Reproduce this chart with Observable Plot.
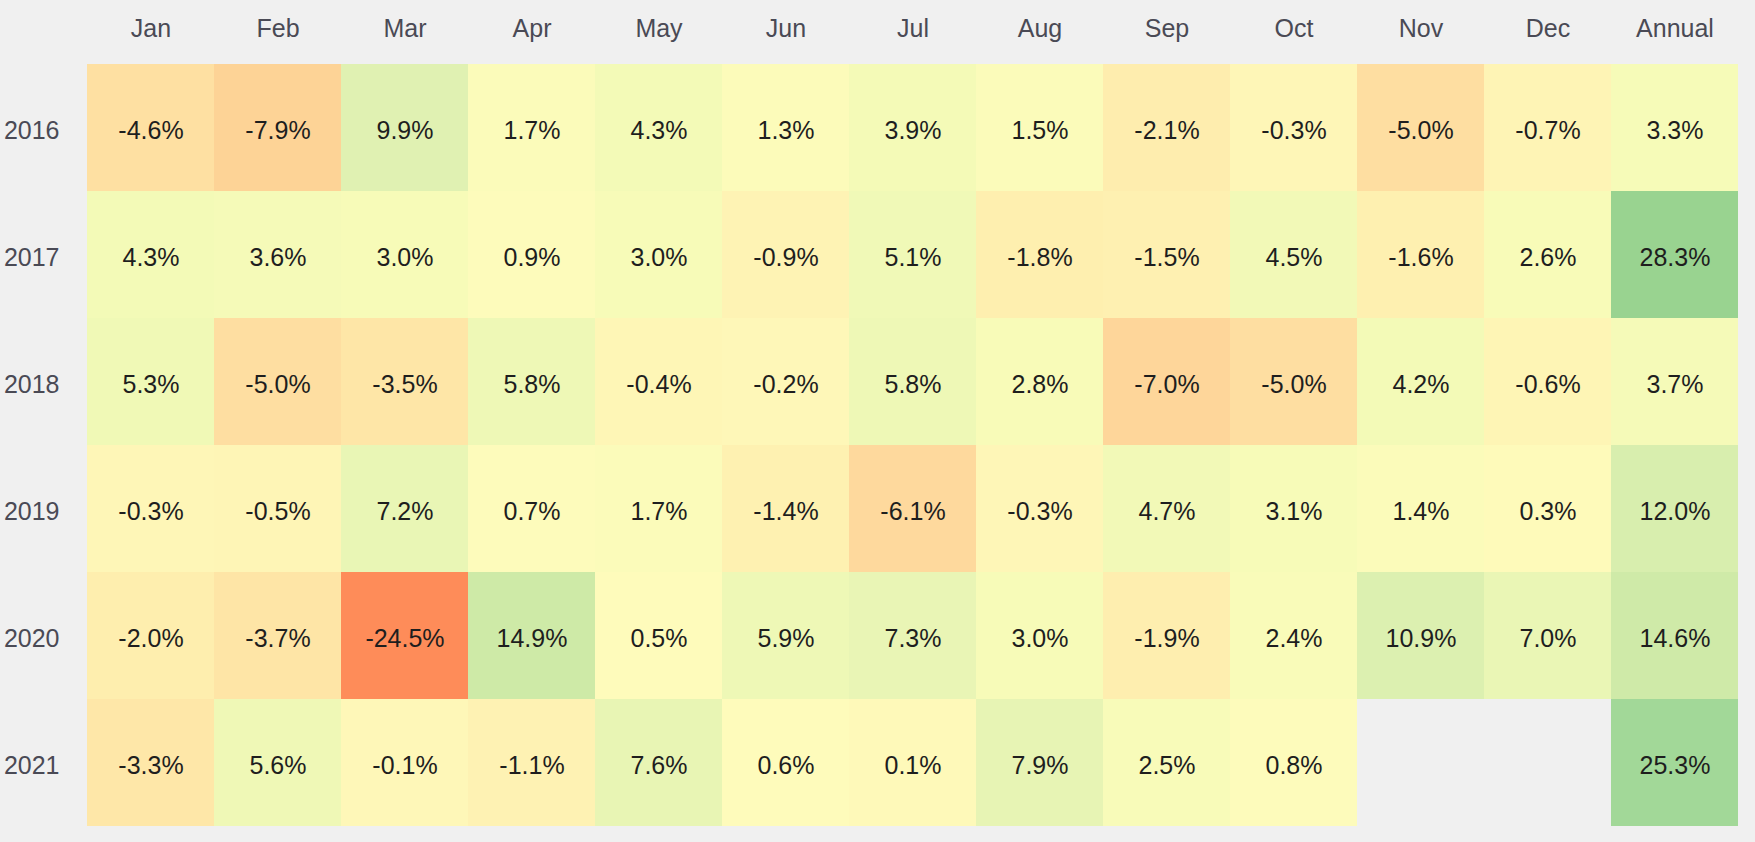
<!DOCTYPE html>
<html>
<head>
<meta charset="utf-8">
<script src="https://cdn.jsdelivr.net/npm/d3@7"></script>
<script src="https://cdn.jsdelivr.net/npm/@observablehq/plot@0.6"></script>
<style>
  html, body { margin: 0; padding: 0; background: #f0f0f0; }
  #chart { width: 1755px; height: 842px; }
</style>
</head>
<body>
<div id="chart"></div>
<script>
// Column and row categories
const months = ["Jan","Feb","Mar","Apr","May","Jun","Jul","Aug","Sep","Oct","Nov","Dec","Annual"];
const years = ["2016","2017","2018","2019","2020","2021"];

// Monthly returns (%) per year, last entry = Annual
const r2016 = [-4.6, -7.9,   9.9,  1.7,  4.3,  1.3,  3.9,  1.5, -2.1, -0.3, -5.0, -0.7,  3.3];
const r2017 = [ 4.3,  3.6,   3.0,  0.9,  3.0, -0.9,  5.1, -1.8, -1.5,  4.5, -1.6,  2.6, 28.3];
const r2018 = [ 5.3, -5.0,  -3.5,  5.8, -0.4, -0.2,  5.8,  2.8, -7.0, -5.0,  4.2, -0.6,  3.7];
const r2019 = [-0.3, -0.5,   7.2,  0.7,  1.7, -1.4, -6.1, -0.3,  4.7,  3.1,  1.4,  0.3, 12.0];
const r2020 = [-2.0, -3.7, -24.5, 14.9,  0.5,  5.9,  7.3,  3.0, -1.9,  2.4, 10.9,  7.0, 14.6];
const r2021 = [-3.3,  5.6,  -0.1, -1.1,  7.6,  0.6,  0.1,  7.9,  2.5,  0.8, null, null, 25.3];

const rows = [r2016, r2017, r2018, r2019, r2020, r2021];

// Colour scale stops (piecewise)
const colorDomain = [-24.5, -7.9, -6.1, -4.6, -2.0, -0.3, 0.5, 3.0, 5.8, 9.9, 12.0, 14.8, 25.3, 28.3];
const colorRange = ["#fe8c59", "#fdd396", "#fed99d", "#fee0a2", "#feeeae", "#fef6b7", "#fefbbb",
                    "#f7fbb8", "#eef8b6", "#e0f1b2", "#d8eeae", "#ceeaa7", "#a2d898", "#99d390"];

const table = [];
years.forEach((y, i) => {
  months.forEach((m, j) => {
    const v = rows[i][j];
    if (v !== null && v !== undefined) table.push({year: y, month: m, value: v});
  });
});

const font = "Arial, 'Liberation Sans', sans-serif";

const chart = Plot.plot({
  width: 1755,
  height: 842,
  marginLeft: 86,
  marginRight: 17,
  marginTop: 61,
  marginBottom: 14,
  style: {background: "#f0f0f0", fontFamily: font, fontSize: "25px"},
  x: {domain: months, padding: 0, label: null, axis: null},
  y: {domain: years, padding: 0, label: null, axis: null},
  color: {type: "linear", domain: colorDomain, range: colorRange, interpolate: "rgb", clamp: true},
  marks: [
    Plot.axisX({anchor: "top", tickSize: 0, tickPadding: 25, fontSize: 25, fill: "#4a4a55", label: null}),
    Plot.axisY({anchor: "left", tickSize: 0, tickPadding: 27, fontSize: 25, fill: "#4a4a55", label: null, dy: 3}),
    Plot.cell(table, {x: "month", y: "year", fill: "value", inset: 0}),
    Plot.text(table, {x: "month", y: "year", text: d => d.value.toFixed(1) + "%", fontSize: 25, fill: "#1e1e1e", dy: 3})
  ]
});

document.getElementById("chart").appendChild(chart);
</script>
</body>
</html>
